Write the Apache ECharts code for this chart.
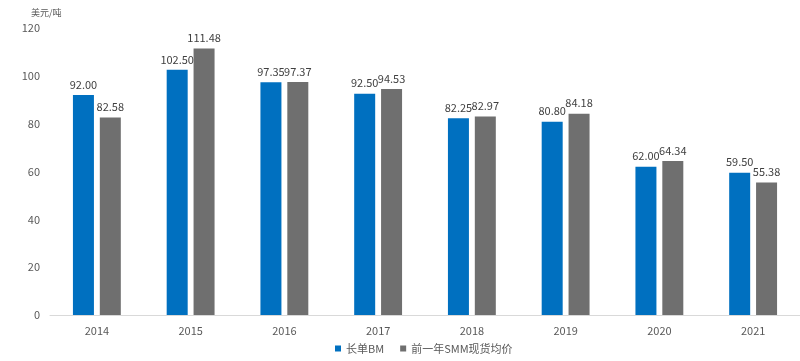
<!DOCTYPE html>
<html><head><meta charset="utf-8">
<script src="https://cdn.jsdelivr.net/npm/echarts@6/dist/echarts.min.js"></script>
<style>html,body{margin:0;padding:0;background:#fff}#c{width:800px;height:361px}</style>
</head><body><div id="c"></div>
<script>
const categories = ['2014','2015','2016','2017','2018','2019','2020','2021'];
const longTermBM = [92.00,102.50,97.35,92.50,82.25,80.80,62.00,59.50];
const spotAvg = [82.58,111.48,97.37,94.53,82.97,84.18,64.34,55.38];
const seriesNames = ['长单BM','前一年SMM现货均价'];
const font = '"Noto Sans CJK SC", "Microsoft YaHei", sans-serif';
const chart = echarts.init(document.getElementById('c'));
const lbl = {show:true, position:'top', formatter: p => p.value.toFixed(2), color:'#404040', fontSize:11, fontFamily:font, distance:5};
chart.setOption({
  animation:false,
  textStyle:{fontFamily:font},
  title:{text:'美元/吨', left:26, top:3, textStyle:{fontSize:9, fontWeight:'normal', color:'#595959', fontFamily:font}},
  grid:{left:50, right:0, top:28, bottom:46},
  legend:{bottom:2, left:330, itemWidth:6, itemHeight:6, itemGap:16, icon:'rect',
    textStyle:{fontSize:11, color:'#595959', fontFamily:font}, data:seriesNames},
  xAxis:{type:'category', data:categories,
    axisLine:{lineStyle:{color:'#d9d9d9'}}, axisTick:{show:false},
    axisLabel:{color:'#595959', fontSize:11, margin:10, fontFamily:font}},
  yAxis:{type:'value', min:0, max:120, interval:20,
    axisLine:{show:false}, axisTick:{show:false}, splitLine:{show:false},
    axisLabel:{color:'#595959', fontSize:11, margin:10, fontFamily:font}},
  series:[
    {name:seriesNames[0], type:'bar', data:longTermBM, barWidth:21, barGap:'28%', itemStyle:{color:'#0070C0'}, label:lbl},
    {name:seriesNames[1], type:'bar', data:spotAvg, barWidth:21, itemStyle:{color:'#6F6F6F'}, label:lbl}
  ]
});
</script></body></html>
